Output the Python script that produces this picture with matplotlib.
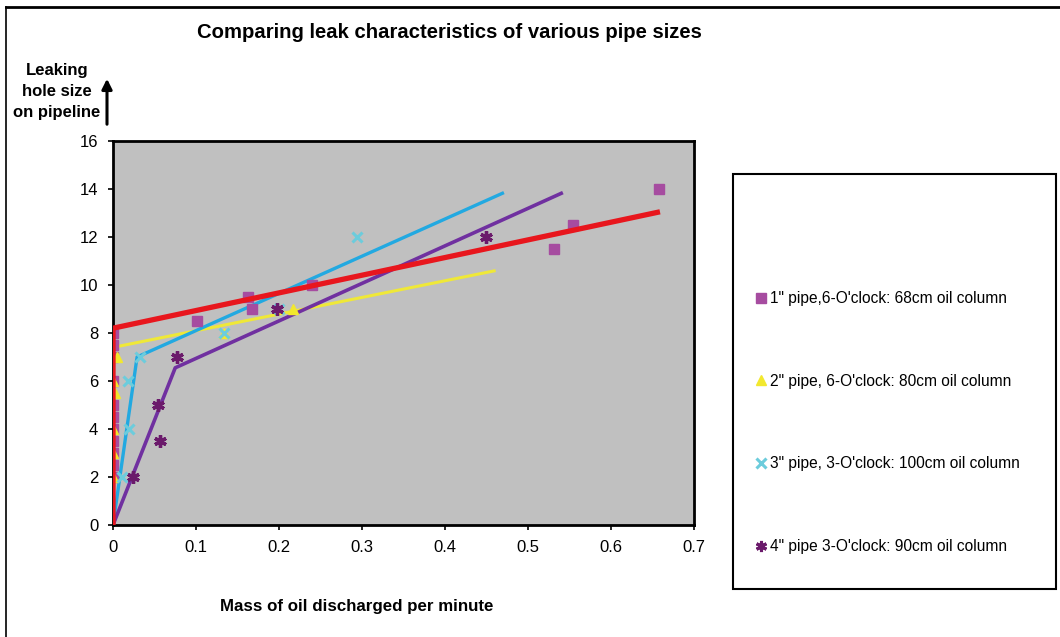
import matplotlib
matplotlib.use("Agg")
import matplotlib.pyplot as plt
from matplotlib.patches import Rectangle
from matplotlib.lines import Line2D

plt.rcParams['font.family'] = ['Liberation Sans', 'DejaVu Sans']

# ---- data ----
s1_label = '1" pipe,6-O\'clock: 68cm oil column'
s1_x = [0.0, 0.0, 0.0, 0.0, 0.0, 0.0, 0.0, 0.0, 0.0, 0.0, 0.0, 0.101, 0.163, 0.167, 0.240, 0.531, 0.554, 0.658]
s1_y = [8.0, 7.5, 7.0, 6.0, 5.0, 4.5, 4.0, 3.5, 3.0, 2.5, 2.0, 8.5, 9.5, 9.0, 10.0, 11.5, 12.5, 14.0]
s1_fit_x = [0.0, 0.0, 0.659]
s1_fit_y = [0.0, 8.2, 13.05]

s2_label = '2" pipe, 6-O\'clock: 80cm oil column'
s2_x = [0.005, 0.0, 0.003, 0.0, 0.0, 0.0, 0.134, 0.217]
s2_y = [7.0, 6.0, 5.5, 4.0, 3.0, 2.0, 8.0, 9.0]
s2_fit_x = [0.0, 0.0, 0.461]
s2_fit_y = [0.0, 7.4, 10.6]

s3_label = '3" pipe, 3-O\'clock: 100cm oil column'
s3_x = [0.011, 0.019, 0.018, 0.033, 0.134, 0.200, 0.294]
s3_y = [2.0, 4.0, 6.0, 7.0, 8.0, 9.0, 12.0]
s3_fit_x = [0.0, 0.029, 0.471]
s3_fit_y = [0.0, 7.0, 13.85]

s4_label = '4" pipe 3-O\'clock: 90cm oil column'
s4_x = [0.024, 0.057, 0.054, 0.077, 0.198, 0.449]
s4_y = [2.0, 3.5, 5.0, 7.0, 9.0, 12.0]
s4_fit_x = [0.0, 0.075, 0.542]
s4_fit_y = [0.0, 6.55, 13.85]

x_ticks = [0, 0.1, 0.2, 0.3, 0.4, 0.5, 0.6, 0.7]
x_tick_labels = ['0', '0.1', '0.2', '0.3', '0.4', '0.5', '0.6', '0.7']
y_ticks = [0, 2, 4, 6, 8, 10, 12, 14, 16]

title = 'Comparing leak characteristics of various pipe sizes'
x_label = 'Mass of oil discharged per minute'
y_label = 'Leaking\nhole size\non pipeline'

# ---- figure ----
W, H = 1060, 637
fig = plt.figure(figsize=(W / 100, H / 100), dpi=100)
fig.patch.set_facecolor('white')

def fx(px):
    return px / W

def fy(py):
    return 1 - py / H

ax = fig.add_axes([fx(113), fy(525), fx(694) - fx(113), fy(141) - fy(525)])
ax.set_facecolor('#C0C0C0')

c_sq = '#A64CA0'
c_tri = '#F2E82E'
c_x = '#6CCCDC'
c_star = '#6B1A6B'

# trend lines
ax.plot(s2_fit_x, s2_fit_y, color='#EFE838', lw=2.2, zorder=2, solid_capstyle='butt')
ax.plot(s3_fit_x, s3_fit_y, color='#22A9E1', lw=2.4, zorder=2, solid_capstyle='butt')
ax.plot(s4_fit_x, s4_fit_y, color='#7030A0', lw=2.6, zorder=2, solid_capstyle='butt')

# markers
ax.plot(s1_x, s1_y, ls='none', marker='s', ms=7.5, color=c_sq, mec=c_sq, zorder=3, label=s1_label)
ax.plot(s2_x, s2_y, ls='none', marker='^', ms=7.5, color=c_tri, mec=c_tri, zorder=3, label=s2_label)
ax.plot(s3_x, s3_y, ls='none', marker='x', ms=7.5, mew=2.2, color=c_x, zorder=3, label=s3_label)
ax.plot(s4_x, s4_y, ls='none', marker=(6, 2, 0), ms=9, mew=2.4, color=c_star, zorder=4, label=s4_label)

ax.plot(s1_fit_x, s1_fit_y, color='#E8161D', lw=3.8, zorder=5, solid_capstyle='butt')

ax.set_xlim(0, 0.7)
ax.set_ylim(0, 16)
ax.set_xticks(x_ticks)
ax.set_xticklabels(x_tick_labels)
ax.set_yticks(y_ticks)
ax.tick_params(direction='out', length=3.6, width=1.2, labelsize=12, pad=7, colors='black')
for sp in ax.spines.values():
    sp.set_linewidth(2)
    sp.set_color('black')

# title and labels
fig.text(fx(449), fy(32), title, ha='center', va='center', fontsize=14.6, fontweight='bold')
fig.text(fx(357), fy(607), x_label, ha='center', va='center', fontsize=12.2, fontweight='bold')
fig.text(fx(57), fy(92), y_label, ha='center', va='center', fontsize=12, fontweight='bold',
         linespacing=1.5)
fig.patches.append(matplotlib.patches.FancyArrowPatch(
    (fx(107), fy(127)), (fx(107), fy(76)), transform=fig.transFigure, figure=fig,
    arrowstyle='-|>,head_length=6,head_width=3', mutation_scale=1, lw=2.2, color='black'))

# legend box
fig.patches.append(Rectangle((fx(733), fy(589)), fx(1056) - fx(733), fy(174) - fy(589),
                             transform=fig.transFigure, figure=fig, fill=False,
                             edgecolor='black', lw=1.5))
handles = [
    Line2D([], [], ls='none', marker='s', ms=7, color=c_sq),
    Line2D([], [], ls='none', marker='^', ms=7, color=c_tri),
    Line2D([], [], ls='none', marker='x', ms=7, mew=2.2, color=c_x),
    Line2D([], [], ls='none', marker=(6, 2, 0), ms=8, mew=2.2, color=c_star),
]
labels = [s1_label, s2_label, s3_label, s4_label]
fig.legend(handles, labels, loc='upper left', bbox_to_anchor=(fx(755), fy(291)),
           frameon=False, fontsize=11.2, labelspacing=4.35, handlelength=0.8,
           handletextpad=0.15, borderpad=0, borderaxespad=0)

# figure border (top and left)
fig.add_artist(Line2D([fx(6), fx(1060)], [fy(7), fy(7)], color='black', lw=2))
fig.add_artist(Line2D([fx(6), fx(6)], [fy(7), 0], color='black', lw=1.2))

fig.savefig('out.png', dpi=100)
